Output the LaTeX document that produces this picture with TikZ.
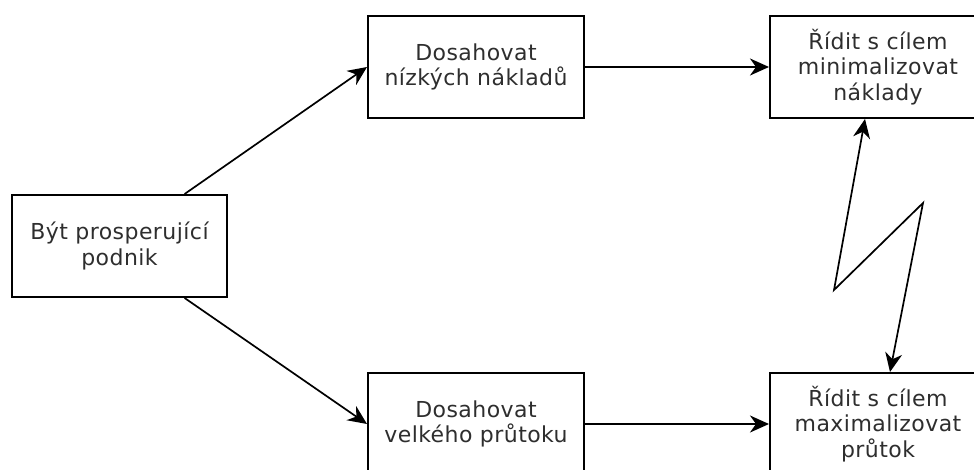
\documentclass[tikz,border=0pt]{standalone}
\usepackage{fontspec}
\setmainfont{DejaVu Sans}[LetterSpace=2]
\usetikzlibrary{arrows.meta,calc}
\definecolor{textgray}{HTML}{2E2E2E}
\begin{document}
\begin{tikzpicture}[x=1pt,y=-1pt,
  box/.style={draw=black, line width=2pt, minimum width=216pt, minimum height=102pt, inner sep=0pt, align=center, text=textgray, font=\fontsize{22}{25.5}\selectfont},
  conn/.style={line width=1.7pt, -{Stealth[length=19pt,width=17pt,inset=6pt]}},
  bothconn/.style={line width=1.7pt, {Stealth[length=19pt,width=17pt,inset=6pt]}-{Stealth[length=19pt,width=17pt,inset=6pt]}}]
\useasboundingbox (0,0) rectangle (974,470);
\clip (0,0) rectangle (974,470);
\node[box, minimum width=215pt] (a) at (119.5,246) {Být prosperující\\podnik};
\node[box] (b) at (476,67) {Dosahovat\\nízkých nákladů};
\node[box] (c) at (476,424) {Dosahovat\\velkého průtoku};
\node[box] (d) at (878,67) {Řídit s cílem\\minimalizovat\\náklady};
\node[box] (e) at (878,424) {Řídit s cílem\\maximalizovat\\průtok};
\coordinate (z1) at (834,290);
\coordinate (z2) at (923,203);
\draw[conn] ($(a.north west)!0.8!(a.north east)$) -- (b.west);
\draw[conn] ($(a.south west)!0.8!(a.south east)$) -- (c.west);
\draw[conn] (b.east) -- (d.west);
\draw[conn] (c.east) -- (e.west);
\draw[bothconn] ($(d.south)+(-13,0)$) -- (z1) -- (z2) -- ($(e.north)+(12,0)$);
\end{tikzpicture}
\end{document}
